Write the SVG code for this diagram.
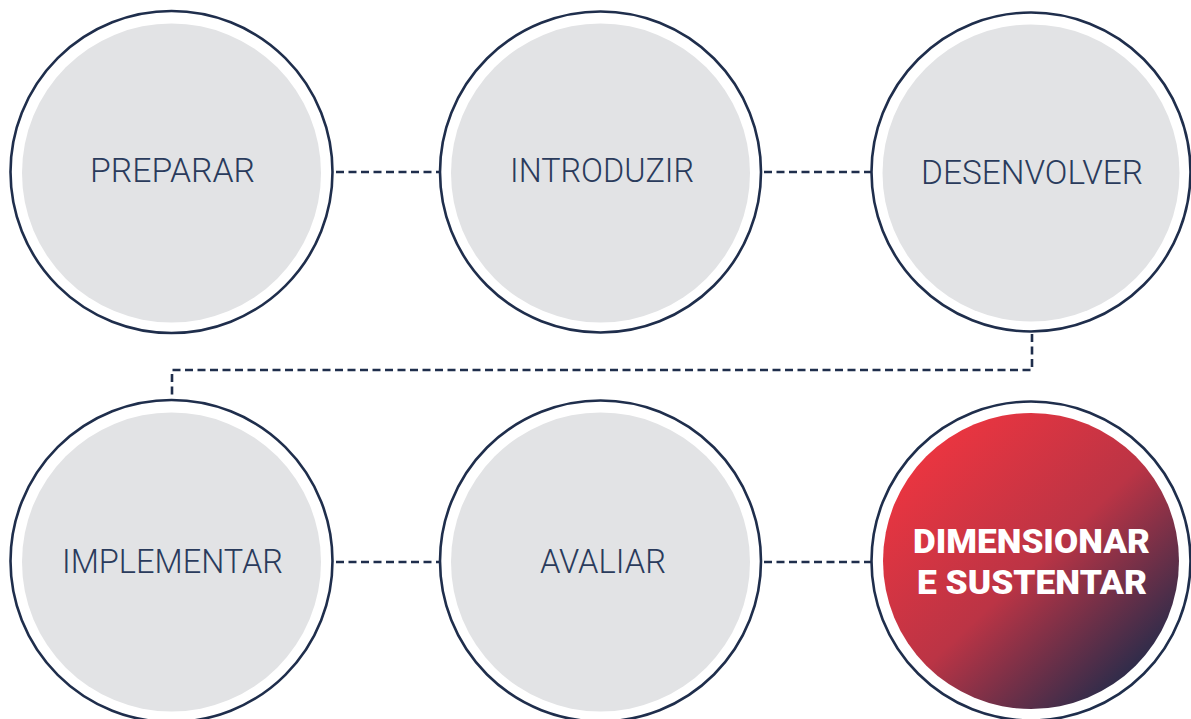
<svg xmlns="http://www.w3.org/2000/svg" width="1191" height="719" viewBox="0 0 1191 719">
<style>
.ring{fill:#ffffff;stroke:#1f2e4c;stroke-width:2.6}
.core{fill:#e2e3e5}
.lbl{font-family:Roboto,"Liberation Sans",sans-serif;font-weight:300;font-size:34px;fill:#2a3b5c;text-anchor:middle}
.hl{font-family:Roboto,"Liberation Sans",sans-serif;font-weight:900;font-size:34px;fill:#ffffff;text-anchor:middle}
.dash{fill:none;stroke:#1f2e4c;stroke-width:2.6;stroke-dasharray:8 4.5}
</style>
<defs>
<linearGradient id="grad" x1="0.15" y1="0.1" x2="0.9" y2="0.9">
<stop offset="0" stop-color="#ec3540"/>
<stop offset="0.5" stop-color="#bb3445"/>
<stop offset="1" stop-color="#1d2b4b"/>
</linearGradient>
</defs>
<g id="connectors">
<line class="dash" x1="336" y1="172" x2="439" y2="172"/>
<line class="dash" x1="764" y1="172" x2="871" y2="172"/>
<polyline class="dash" points="1032,334 1032,370 172,370 172,400"/>
<line class="dash" x1="336" y1="562" x2="439" y2="562"/>
<line class="dash" x1="764" y1="562" x2="871" y2="562"/>
</g>
<g id="preparar">
<circle class="ring" cx="171.5" cy="172" r="161"/>
<circle class="core" cx="171.5" cy="173" r="149.5"/>
<text class="lbl" x="172.5" y="182" textLength="165" lengthAdjust="spacingAndGlyphs">PREPARAR</text>
</g>
<g id="introduzir">
<circle class="ring" cx="600.5" cy="172" r="160.5"/>
<circle class="core" cx="600.5" cy="173" r="149.5"/>
<text class="lbl" x="602" y="182" textLength="184" lengthAdjust="spacingAndGlyphs">INTRODUZIR</text>
</g>
<g id="desenvolver">
<circle class="ring" cx="1031" cy="172" r="159.5"/>
<circle class="core" cx="1031" cy="173" r="148.5"/>
<text class="lbl" x="1032" y="184" textLength="222" lengthAdjust="spacingAndGlyphs">DESENVOLVER</text>
</g>
<g id="implementar">
<circle class="ring" cx="171.5" cy="561" r="161"/>
<circle class="core" cx="171.5" cy="562" r="149.5"/>
<text class="lbl" x="172.5" y="573" textLength="221" lengthAdjust="spacingAndGlyphs">IMPLEMENTAR</text>
</g>
<g id="avaliar">
<circle class="ring" cx="600.5" cy="561" r="160.5"/>
<circle class="core" cx="600.5" cy="562" r="149.5"/>
<text class="lbl" x="603" y="573" textLength="126" lengthAdjust="spacingAndGlyphs">AVALIAR</text>
</g>
<g id="dimensionar">
<circle class="ring" cx="1031" cy="561" r="159.5"/>
<circle cx="1031" cy="561" r="148" fill="url(#grad)"/>
<text class="hl" x="1031.5" y="553" textLength="237" lengthAdjust="spacingAndGlyphs">DIMENSIONAR</text>
<text class="hl" x="1032" y="594" textLength="230" lengthAdjust="spacingAndGlyphs">E SUSTENTAR</text>
</g>
</svg>
